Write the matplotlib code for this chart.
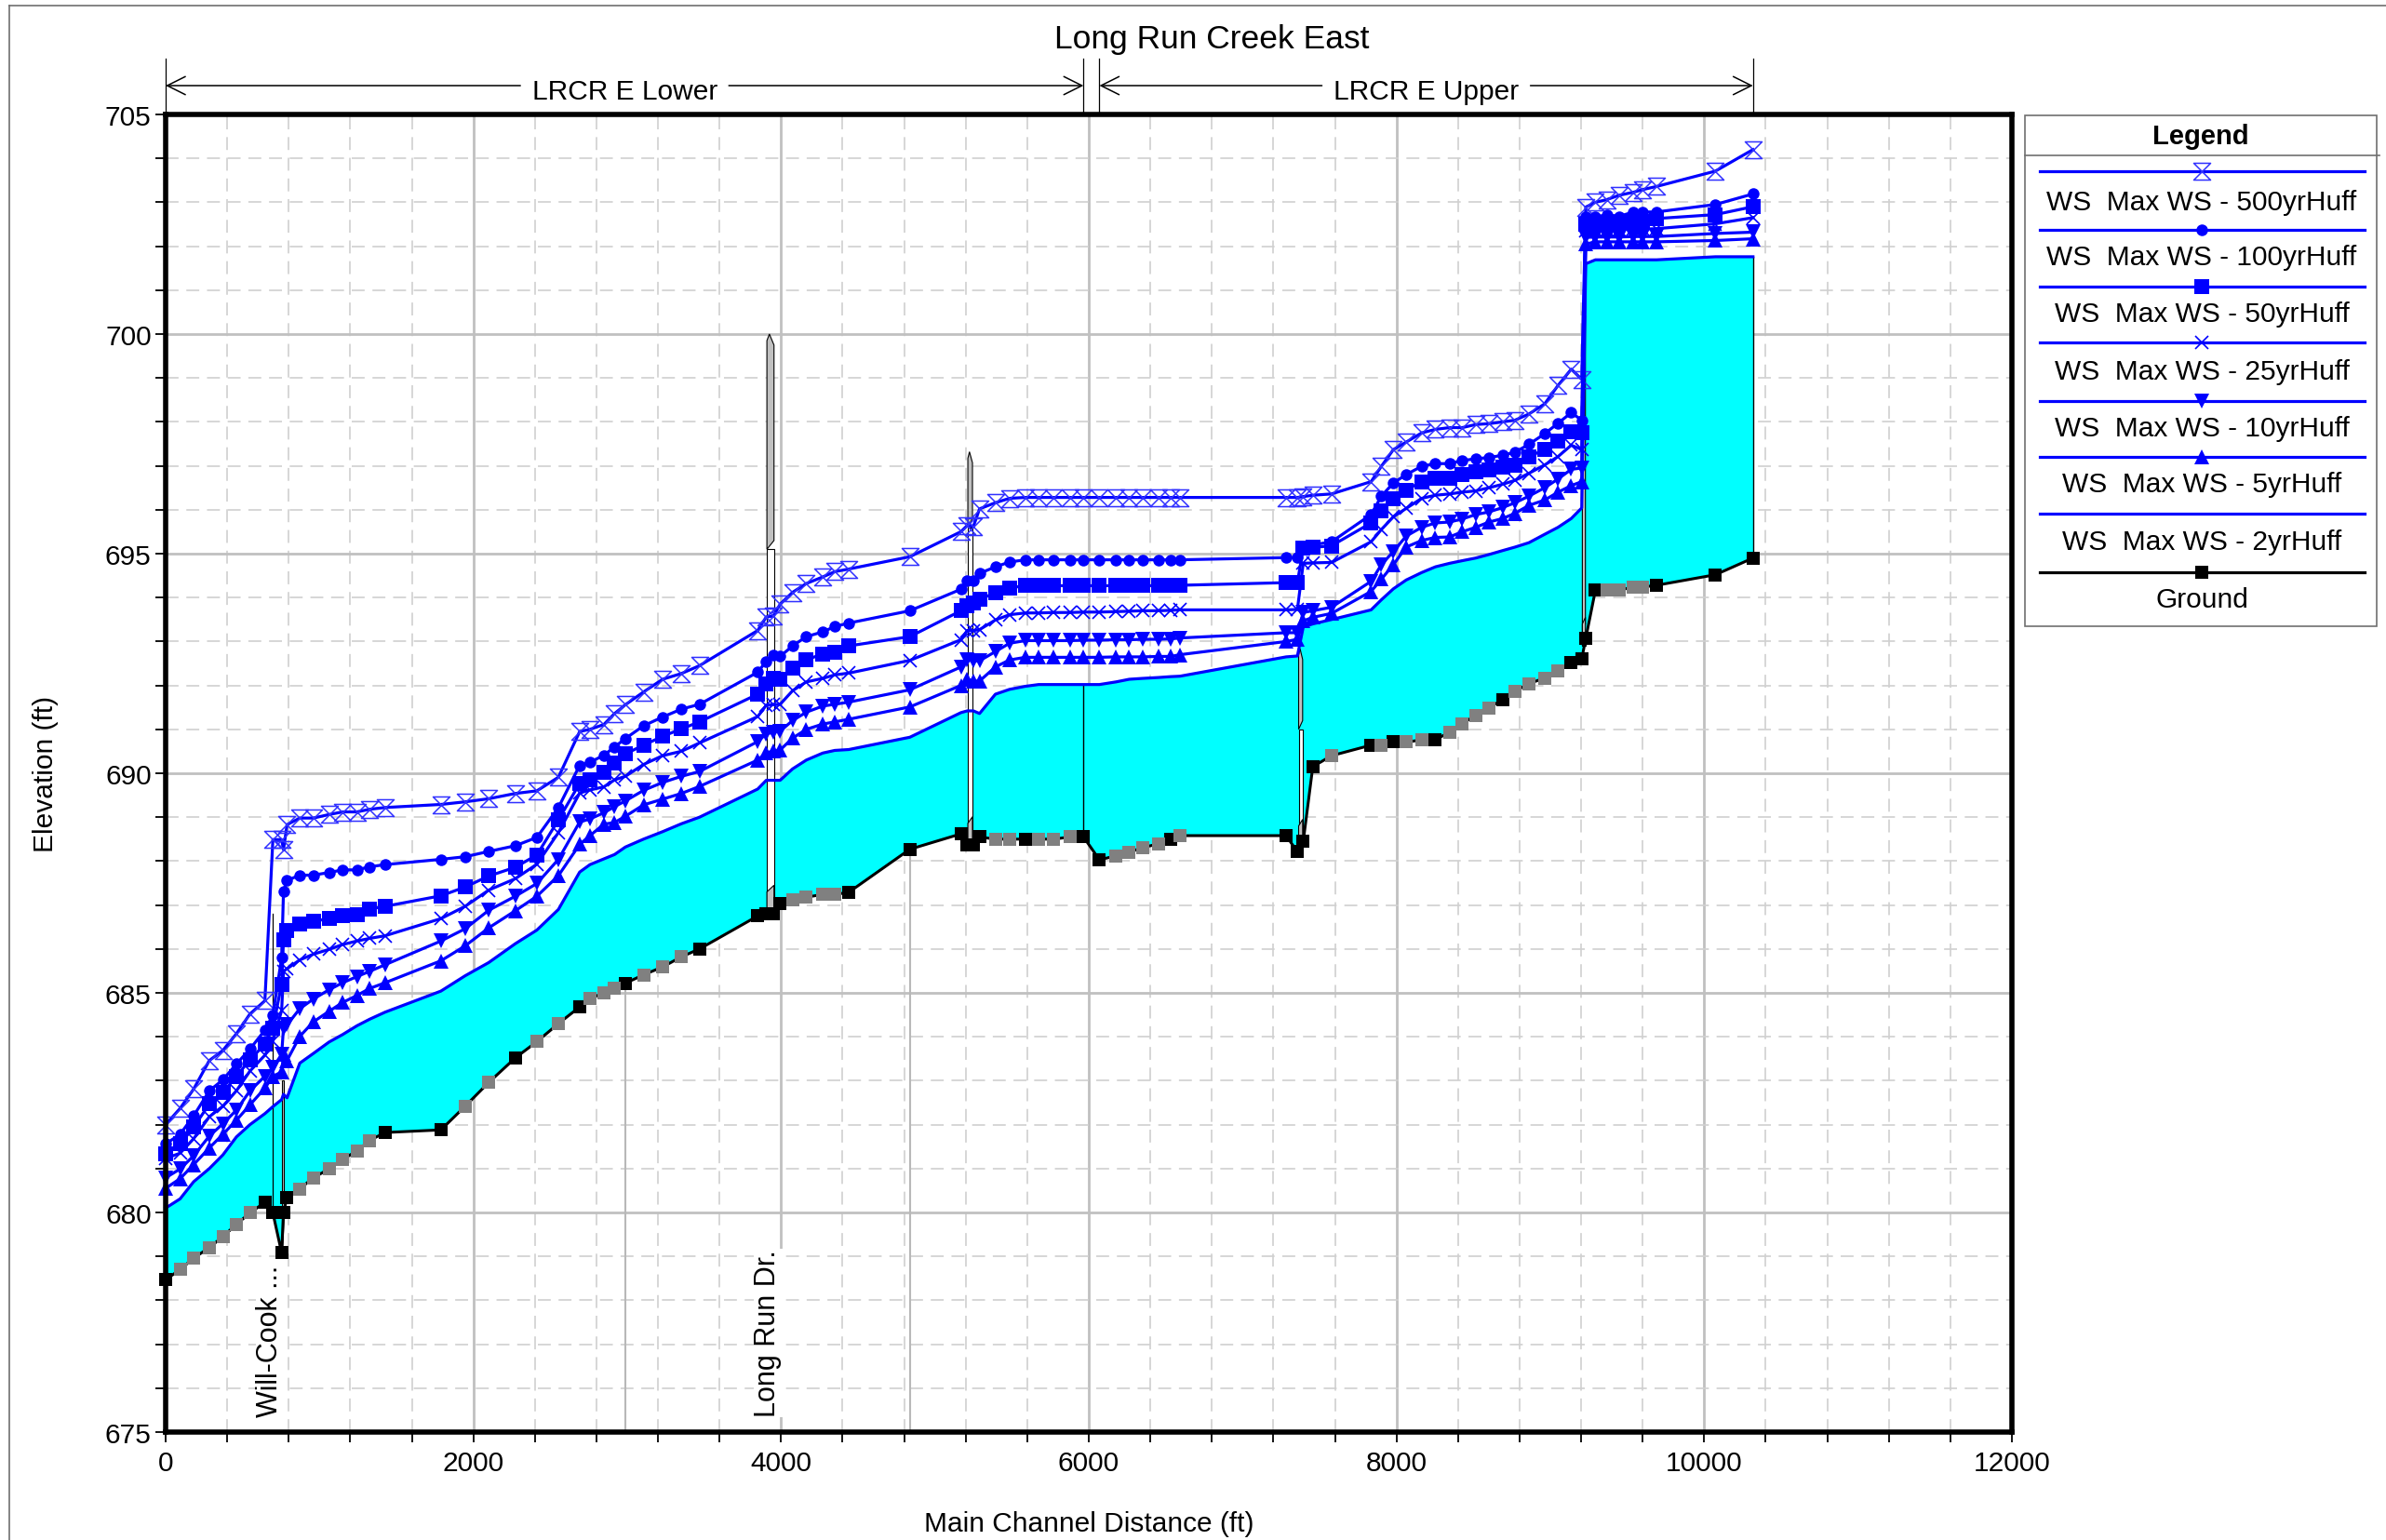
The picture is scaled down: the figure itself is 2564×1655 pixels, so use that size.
import numpy as np
import matplotlib
matplotlib.use("Agg")
import matplotlib.pyplot as plt
from matplotlib.path import Path
from matplotlib.patches import Polygon, Rectangle
from matplotlib.ticker import MultipleLocator

plt.rcParams['font.family'] = ['Liberation Sans', 'DejaVu Sans']
plt.rcParams['lines.scale_dashes'] = False

# ---------------- data ----------------
stations = [0, 94, 182, 284, 372, 460, 548, 645, 697, 754,
            766, 789, 872, 960, 1062, 1150, 1243, 1326, 1426, 1789,
            1947, 2100, 2273, 2413, 2553, 2691, 2758, 2848, 2918, 2988,
            3106, 3230, 3352, 3470, 3848, 3904, 3950, 3994, 4075, 4164,
            4271, 4349, 4440, 4837, 5169, 5210, 5250, 5290, 5393, 5485,
            5588, 5674, 5771, 5880, 5966, 6069, 6177, 6263, 6350, 6452,
            6533, 6593, 7283, 7356, 7394, 7456, 7578, 7835, 7902, 7980,
            8063, 8164, 8253, 8345, 8428, 8515, 8601, 8690, 8771, 8861,
            8963, 9050, 9136, 9204, 9230, 9293, 9366, 9447, 9541, 9601,
            9690, 10073, 10317]

ground = [678.47, 678.70, 678.96, 679.20, 679.45, 679.73, 679.99, 680.23, 679.99, 679.08,
          680.00, 680.34, 680.54, 680.79, 680.99, 681.21, 681.40, 681.64, 681.82, 681.88,
          682.42, 682.96, 683.52, 683.89, 684.30, 684.68, 684.87, 685.00, 685.10, 685.22,
          685.41, 685.59, 685.82, 686.00, 686.75, 686.80, 686.80, 687.04, 687.12, 687.18,
          687.24, 687.24, 687.29, 688.27, 688.62, 688.36, 688.36, 688.55, 688.50, 688.50,
          688.50, 688.50, 688.50, 688.55, 688.55, 688.03, 688.12, 688.20, 688.31, 688.39,
          688.50, 688.58, 688.58, 688.21, 688.45, 690.15, 690.40, 690.64, 690.64, 690.71,
          690.71, 690.76, 690.76, 690.94, 691.13, 691.32, 691.49, 691.68, 691.87, 692.04,
          692.17, 692.34, 692.53, 692.60, 693.07, 694.17, 694.17, 694.17, 694.24, 694.24,
          694.28, 694.52, 694.90]

# 1 = interpolated cross section (grey marker)
interpolated = [0, 1, 1, 1, 1, 1, 1, 0, 0, 0,
                0, 0, 1, 1, 1, 1, 1, 1, 0, 0,
                1, 1, 0, 1, 1, 0, 1, 1, 1, 0,
                1, 1, 1, 0, 0, 0, 0, 0, 1, 1,
                1, 1, 0, 0, 0, 0, 0, 0, 1, 1,
                0, 1, 1, 1, 0, 0, 1, 1, 1, 1,
                0, 1, 0, 0, 0, 0, 1, 0, 1, 0,
                1, 1, 0, 1, 1, 1, 1, 0, 1, 1,
                1, 1, 0, 0, 0, 0, 1, 1, 1, 1,
                0, 0, 0]

ws_2yr = [680.10, 680.31, 680.70, 681.00, 681.31, 681.72, 682.00, 682.25, 682.41, 682.57,
          682.69, 682.61, 683.40, 683.62, 683.88, 684.05, 684.25, 684.40, 684.56, 685.04,
          685.39, 685.69, 686.12, 686.43, 686.90, 687.75, 687.92, 688.05, 688.15, 688.32,
          688.50, 688.67, 688.85, 689.00, 689.64, 689.84, 689.84, 689.84, 690.10, 690.30,
          690.46, 690.52, 690.54, 690.82, 691.38, 691.42, 691.42, 691.36, 691.80, 691.91,
          691.98, 692.02, 692.02, 692.02, 692.02, 692.02, 692.08, 692.14, 692.16, 692.18,
          692.20, 692.21, 692.65, 692.67, 693.33, 693.40, 693.50, 693.72, 693.95, 694.20,
          694.40, 694.57, 694.70, 694.78, 694.84, 694.90, 694.98, 695.07, 695.15, 695.25,
          695.44, 695.60, 695.80, 696.04, 701.60, 701.69, 701.69, 701.69, 701.69, 701.69,
          701.69, 701.76, 701.76]

ws_5yr = [680.55, 680.77, 681.09, 681.47, 681.78, 682.10, 682.45, 682.83, 683.10, 683.20,
          683.60, 683.46, 684.01, 684.34, 684.58, 684.78, 684.94, 685.10, 685.23, 685.73,
          686.07, 686.48, 686.87, 687.20, 687.67, 688.38, 688.58, 688.84, 688.88, 689.02,
          689.28, 689.41, 689.54, 689.70, 690.30, 690.47, 690.50, 690.53, 690.80, 691.00,
          691.12, 691.17, 691.23, 691.51, 692.00, 692.14, 692.10, 692.10, 692.42, 692.58,
          692.64, 692.64, 692.64, 692.64, 692.64, 692.64, 692.65, 692.65, 692.65, 692.66,
          692.66, 692.70, 693.00, 693.05, 693.47, 693.55, 693.64, 694.14, 694.42, 694.75,
          695.15, 695.30, 695.37, 695.38, 695.50, 695.60, 695.72, 695.80, 695.92, 696.10,
          696.22, 696.40, 696.55, 696.64, 702.05, 702.10, 702.10, 702.10, 702.10, 702.10,
          702.10, 702.13, 702.17]

ws_10yr = [680.79, 680.99, 681.29, 681.74, 682.02, 682.33, 682.77, 683.10, 683.30, 683.60,
           684.20, 684.27, 684.64, 684.86, 685.07, 685.23, 685.37, 685.49, 685.64, 686.18,
           686.46, 686.88, 687.20, 687.49, 688.04, 688.89, 688.96, 689.10, 689.24, 689.37,
           689.61, 689.79, 689.93, 690.04, 690.72, 690.90, 690.93, 690.96, 691.20, 691.39,
           691.53, 691.57, 691.62, 691.90, 692.42, 692.58, 692.56, 692.56, 692.77, 692.96,
           693.02, 693.02, 693.02, 693.02, 693.03, 693.03, 693.04, 693.04, 693.05, 693.05,
           693.06, 693.08, 693.20, 693.20, 693.66, 693.70, 693.78, 694.37, 694.75, 695.05,
           695.40, 695.60, 695.70, 695.72, 695.79, 695.89, 695.95, 696.05, 696.16, 696.31,
           696.50, 696.70, 696.92, 696.95, 702.20, 702.21, 702.21, 702.21, 702.22, 702.22,
           702.22, 702.29, 702.32]

ws_25yr = [681.23, 681.35, 681.68, 682.18, 682.42, 682.77, 683.22, 683.58, 683.90, 684.60,
           685.49, 685.55, 685.75, 685.88, 685.99, 686.10, 686.18, 686.24, 686.30, 686.69,
           686.97, 687.34, 687.60, 687.93, 688.65, 689.55, 689.62, 689.69, 689.85, 689.93,
           690.20, 690.40, 690.50, 690.69, 691.29, 691.55, 691.56, 691.57, 691.88, 692.08,
           692.16, 692.24, 692.28, 692.57, 693.04, 693.25, 693.25, 693.27, 693.49, 693.61,
           693.65, 693.65, 693.66, 693.66, 693.67, 693.67, 693.68, 693.69, 693.70, 693.70,
           693.71, 693.72, 693.72, 693.73, 694.78, 694.79, 694.80, 695.27, 695.55, 695.84,
           696.03, 696.26, 696.33, 696.36, 696.40, 696.43, 696.50, 696.58, 696.67, 696.83,
           697.02, 697.21, 697.47, 697.37, 702.36, 702.38, 702.38, 702.38, 702.39, 702.39,
           702.40, 702.51, 702.65]

ws_50yr = [681.34, 681.56, 681.94, 682.47, 682.73, 683.10, 683.48, 683.83, 684.20, 685.20,
           686.20, 686.42, 686.56, 686.63, 686.69, 686.75, 686.79, 686.91, 686.97, 687.21,
           687.41, 687.66, 687.86, 688.14, 688.94, 689.77, 689.86, 690.02, 690.23, 690.44,
           690.64, 690.84, 691.01, 691.17, 691.80, 692.03, 692.16, 692.14, 692.40, 692.58,
           692.72, 692.76, 692.90, 693.11, 693.70, 693.81, 693.88, 693.97, 694.10, 694.22,
           694.27, 694.27, 694.27, 694.27, 694.27, 694.27, 694.27, 694.27, 694.27, 694.27,
           694.27, 694.28, 694.34, 694.34, 695.13, 695.14, 695.18, 695.70, 695.98, 696.26,
           696.45, 696.64, 696.71, 696.71, 696.80, 696.86, 696.90, 696.96, 697.02, 697.21,
           697.37, 697.56, 697.78, 697.75, 702.51, 702.52, 702.53, 702.53, 702.57, 702.57,
           702.63, 702.72, 702.90]

ws_100yr = [681.56, 681.78, 682.20, 682.77, 683.02, 683.38, 683.72, 684.15, 684.50, 685.80,
            687.31, 687.56, 687.68, 687.68, 687.74, 687.80, 687.80, 687.87, 687.92, 688.04,
            688.10, 688.22, 688.35, 688.54, 689.22, 690.18, 690.25, 690.41, 690.60, 690.79,
            691.08, 691.28, 691.46, 691.57, 692.30, 692.55, 692.70, 692.66, 692.90, 693.11,
            693.22, 693.34, 693.42, 693.70, 694.19, 694.38, 694.38, 694.55, 694.70, 694.81,
            694.86, 694.86, 694.86, 694.86, 694.86, 694.86, 694.86, 694.86, 694.86, 694.86,
            694.86, 694.86, 694.91, 694.91, 695.15, 695.20, 695.27, 695.89, 696.31, 696.61,
            696.80, 696.99, 697.05, 697.05, 697.12, 697.16, 697.19, 697.24, 697.31, 697.49,
            697.73, 697.97, 698.21, 698.04, 702.66, 702.66, 702.72, 702.68, 702.78, 702.78,
            702.78, 702.95, 703.19]

ws_500yr = [682.00, 682.37, 682.81, 683.46, 683.69, 684.07, 684.52, 684.82, 688.49, 688.49,
            688.26, 688.83, 688.98, 688.98, 689.06, 689.12, 689.12, 689.18, 689.22, 689.29,
            689.35, 689.42, 689.54, 689.60, 689.91, 690.95, 691.00, 691.11, 691.36, 691.56,
            691.85, 692.14, 692.27, 692.45, 693.25, 693.56, 693.58, 693.85, 694.12, 694.32,
            694.47, 694.59, 694.65, 694.93, 695.50, 695.64, 695.62, 696.02, 696.16, 696.26,
            696.28, 696.28, 696.28, 696.28, 696.28, 696.28, 696.28, 696.28, 696.28, 696.28,
            696.28, 696.28, 696.28, 696.28, 696.30, 696.33, 696.36, 696.64, 696.99, 697.37,
            697.54, 697.75, 697.83, 697.87, 697.87, 697.94, 697.96, 698.00, 698.04, 698.18,
            698.41, 698.83, 699.20, 698.97, 702.89, 703.00, 703.06, 703.16, 703.23, 703.29,
            703.36, 703.71, 704.20]

profile_labels = ["WS  Max WS - 500yrHuff", "WS  Max WS - 100yrHuff", "WS  Max WS - 50yrHuff",
                  "WS  Max WS - 25yrHuff", "WS  Max WS - 10yrHuff", "WS  Max WS - 5yrHuff",
                  "WS  Max WS - 2yrHuff", "Ground"]

# structures (bridges): left / right station, deck top, low chord, bottom of opening
bridge_left = [3908, 5214, 7364, 9208]
bridge_right = [3954, 5244, 7390, 9228]
bridge_top = [700.0, 697.32, 692.84, 700.66]
bridge_low = [695.1, 695.6, 691.0, 693.2]
bridge_bottom = [686.8, 688.36, 688.3, 692.9]

structure_labels = ["Will-Cook ...", "Long Run Dr."]
structure_label_x = [680, 3914]

reach_names = ["LRCR E Lower", "LRCR E Upper"]
reach_start = [0, 6069]
reach_end = [5966, 10317]

# ---------------- figure ----------------
W, H = 2564, 1656
fig = plt.figure(figsize=(W / 100, H / 100), dpi=100)
L, R, T, B = 178, 2162, 124, 1540
ax = fig.add_axes([L / W, 1 - B / H, (R - L) / W, (B - T) / H])
ax.set_xlim(0, 12000)
ax.set_ylim(675, 705)

st = np.array(stations, float)
gr = np.array(ground)
interp = np.array(interpolated, bool)

# grid
ax.xaxis.set_major_locator(MultipleLocator(2000))
ax.xaxis.set_minor_locator(MultipleLocator(400))
ax.yaxis.set_major_locator(MultipleLocator(5))
ax.yaxis.set_minor_locator(MultipleLocator(1))
ax.grid(which='major', color='#c0c0c0', lw=2.0, ls='-', zorder=0)
ax.grid(which='minor', color='#d0d0d0', lw=1.2, ls=(0, (10, 6)), zorder=0)
ax.set_axisbelow(True)

ax.tick_params(which='both', direction='out', length=8, width=1.3, color='black')
ax.tick_params(axis='x', labelsize=21.5, pad=6)
ax.tick_params(axis='y', labelsize=21.5, pad=3)
for sp in ax.spines.values():
    sp.set_linewidth(4.0)
    sp.set_zorder(10)

ax.set_xlabel("Main Channel Distance (ft)", fontsize=21.5, labelpad=26)
ax.set_ylabel("Elevation (ft)", fontsize=21.5, labelpad=36)

# lines from ground to axis at two cross sections
for i in (29, 43):
    ax.plot([st[i], st[i]], [675, gr[i]], color='#b8b8b8', lw=1.5, zorder=0.8)

# water fill (2 yr)
ax.fill_between(st, gr, ws_2yr, color='#00ffff', lw=0, zorder=1)
ax.plot([st[54], st[54]], [gr[54], ws_2yr[54]], color='black', lw=1, zorder=1.5)
ax.plot([st[-1], st[-1]], [gr[-1], ws_2yr[-1]], color='black', lw=1, zorder=1.5)

# bridges / structures
for xl, xr, top, low, g0 in zip(bridge_left, bridge_right, bridge_top, bridge_low, bridge_bottom):
    ax.add_patch(Rectangle((xl, g0), xr - xl, low - g0, fc='white', ec='black', lw=0.8, zorder=2))
    xm = xl + (xr - xl) * 0.35
    ax.add_patch(Polygon([(xl, low), (xl, top - 0.15), (xm, top), (xr, top - 0.25), (xr, low + 0.2)],
                         closed=True, fc='#c0c0c0', ec='black', lw=0.8, zorder=2))
    ax.add_patch(Polygon([(xl, g0), (xl, g0 + 0.5), (xr, g0 + 0.65), (xr, g0)],
                         closed=True, fc='#c0c0c0', ec='black', lw=0.8, zorder=2))

# Will-Cook culvert
ax.plot([697, 697], [679.99, 686.8], color='black', lw=0.9, zorder=2)
ax.add_patch(Polygon([(754, 679.08), (754, 683.0), (770, 683.0), (770, 680.0)],
                     closed=True, fc='#c0c0c0', ec='black', lw=0.8, zorder=2))

# water surface profiles
hourglass = Path([(-1, 1), (1, 1), (-1, -1), (1, -1), (-1, 1)],
                 [Path.MOVETO, Path.LINETO, Path.LINETO, Path.LINETO, Path.CLOSEPOLY])
blue = '#0000ff'
styles = [
    (ws_500yr, dict(marker=hourglass, ms=13, mfc='none', mec='#3030ff', mew=1.1)),
    (ws_100yr, dict(marker='o', ms=9, mfc=blue, mec=blue, mew=0)),
    (ws_50yr, dict(marker='s', ms=11.5, mfc=blue, mec=blue, mew=0)),
    (ws_25yr, dict(marker='x', ms=10, mfc=blue, mec=blue, mew=1.2)),
    (ws_10yr, dict(marker='v', ms=12, mfc=blue, mec=blue, mew=0)),
    (ws_5yr, dict(marker='^', ms=12, mfc=blue, mec=blue, mew=0)),
    (ws_2yr, dict(marker=None)),
]
for ws, kw in styles:
    ax.plot(st, ws, color=blue, lw=2.3, zorder=4, clip_on=False, **kw)

# ground
ax.plot(st, gr, color='black', lw=2.2, zorder=5, clip_on=False)
ax.plot(st[~interp], gr[~interp], 's', ms=10.5, color='black', mew=0, zorder=6, clip_on=False)
ax.plot(st[interp], gr[interp], 's', ms=10.5, color='#808080', mew=0, zorder=6, clip_on=False)

# structure labels
for lab, xs in zip(structure_labels, structure_label_x):
    ax.text(xs, 675.35, lab, rotation=90, ha='center', va='bottom', fontsize=22, zorder=7,
            bbox=dict(fc='white', ec='none', pad=0.5))

# ---------------- overlay in pixel coordinates ----------------
ov = fig.add_axes([0, 0, 1, 1])
ov.set_xlim(0, W)
ov.set_ylim(H, 0)
ov.axis('off')

# outer frame
ov.plot([10, W], [7, 7], color='#707070', lw=1.2)
ov.plot([10, 10], [7, H], color='#707070', lw=1.2)

ov.text(1302, 52, "Long Run Creek East", ha='center', va='baseline', fontsize=25.5)

# reach annotations
def sx(v):
    return L + (R - L) * v / 12000.0

for name, a, b in zip(reach_names, reach_start, reach_end):
    xa, xb = sx(a), sx(b)
    for xx in (xa, xb):
        ov.plot([xx, xx], [64, T], color='black', lw=0.9)
    xc = (xa + xb) / 2
    ov.text(xc, 107, name, ha='center', va='baseline', fontsize=21.5)
    half = 112
    for x_end, x_start in ((xa, xc - half), (xb, xc + half)):
        ov.annotate('', xy=(x_end, 93), xytext=(x_start, 93),
                    arrowprops=dict(arrowstyle='->,head_length=0.7,head_width=0.35', lw=1.1,
                                    color='black', shrinkA=0, shrinkB=0, mutation_scale=20))

# legend
ov.add_patch(Rectangle((2176, 125), 378, 549, fill=False, ec='#707070', lw=1.2))
ov.text(2365, 155, "Legend", ha='center', va='baseline', fontsize=21, fontweight='bold')
ov.plot([2176, 2557], [167.5, 167.5], color='#707070', lw=1.2)
line_y = [185, 248, 308.5, 369, 432, 492, 552.5, 615.5]
text_y = [225.6, 285.4, 346.5, 408.3, 469, 529, 591, 653]
leg_styles = [kw for _, kw in styles] + [dict(marker='s', ms=10.5, mfc='black', mec='black', mew=0)]
for i, (lab, kw) in enumerate(zip(profile_labels, leg_styles)):
    col = 'black' if lab == "Ground" else blue
    ov.plot([2192, 2541], [line_y[i], line_y[i]], color=col, lw=2.3)
    if kw.get('marker') is not None:
        ov.plot([2366], [line_y[i]], ls='none', **kw)
    ov.text(2366, text_y[i], lab, ha='center', va='baseline', fontsize=21.5)

fig.savefig("out.png", dpi=100)
